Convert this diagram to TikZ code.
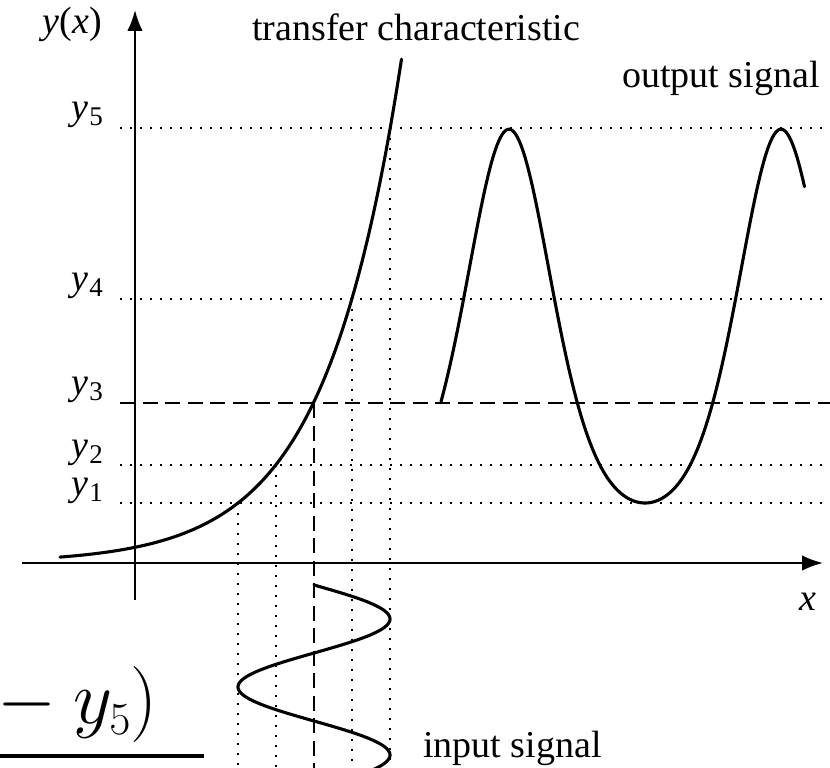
\RequirePackage{fix-cm}
\documentclass[tikz,border=0pt]{standalone}
\usepackage[no-math]{fontspec}
\setmainfont{Liberation Serif}
\usetikzlibrary{arrows.meta}
\DeclareMathSizes{76}{76}{46}{38}
\newcommand\ylabtxt[1]{\textit{y}\kern1pt\raisebox{-6pt}{\fontsize{27}{27}\selectfont #1}}
\tikzset{
  curve/.style={line width=3.1pt, line join=round, line cap=round},
  axisline/.style={line width=2pt, -{Latex[length=21pt,width=15.5pt]}},
  dotline/.style={line width=1.8pt, dash pattern=on 1.8pt off 8.2pt},
  dashline/.style={line width=2.2pt, dash pattern=on 15pt off 7.5pt},
  lbl/.style={inner sep=0pt, font=\fontsize{38}{45}\selectfont},
}
\begin{document}
\begin{tikzpicture}[x=1pt,y=-1pt]
\useasboundingbox (0,0) rectangle (830,768);
% guide lines
\draw[dotline] (120,128) -- (830,128);
\draw[dotline] (120,299) -- (830,299);
\draw[dotline] (120,465) -- (830,465);
\draw[dotline] (120,503) -- (830,503);
\draw[dashline] (120,403) -- (830,403);
\draw[dotline] (238,503) -- (238,770);
\draw[dotline] (276,465) -- (276,770);
\draw[dotline] (352,299) -- (352,770);
\draw[dotline] (390,128) -- (390,770);
\draw[dashline] (314,403) -- (314,770);
% axes
\coordinate (xs) at (22,563);
\coordinate (xe) at (823,563);
\coordinate (ys) at (135,600);
\coordinate (ye) at (135,10);
\draw[axisline] (xs) -- (xe);
\draw[axisline] (ys) -- (ye);
% transfer characteristic
\draw[curve] plot[domain=60:401.5,samples=160] (\x,{563-15.7*exp(0.01302*(\x-135))});
% input signal
\draw[curve] plot[domain=585:772,samples=160] ({314+76*sin((\x-585)*2.647059)},\x);
% output signal
\draw[curve] plot[domain=441:804.5,samples=240] (\x,{563-15.7*exp(0.01302*(179+76*sin((\x-441)*1.323529)))});
% labels
\node[lbl, anchor=base east] (yx) at (102,34) {\textit{y}(\textit{x})};
\node[lbl, anchor=base west] (tc) at (252,41) {transfer characteristic};
\node[lbl, anchor=base west] (os) at (622,88) {output signal};
\node[lbl, anchor=base west] (is) at (423,757) {input signal};
\node[lbl, anchor=base west] (xl) at (799,610) {\textit{x}};
\node[lbl, anchor=base east] (y5) at (103,119) {\ylabtxt{5}};
\node[lbl, anchor=base east] (y4) at (103,290) {\ylabtxt{4}};
\node[lbl, anchor=base east] (y3) at (103,394) {\ylabtxt{3}};
\node[lbl, anchor=base east] (y2) at (103,457) {\ylabtxt{2}};
\node[lbl, anchor=base east] (y1) at (103,495) {\ylabtxt{1}};
% cropped formula fragment
\node[inner sep=0pt, anchor=base east, font=\fontsize{76}{90}\selectfont] (frag) at (158,723) {${}-y_5)$};
\coordinate (rs) at (-10,756);
\coordinate (re) at (204,756);
\draw[line width=4pt] (rs) -- (re);
\end{tikzpicture}
\end{document}
